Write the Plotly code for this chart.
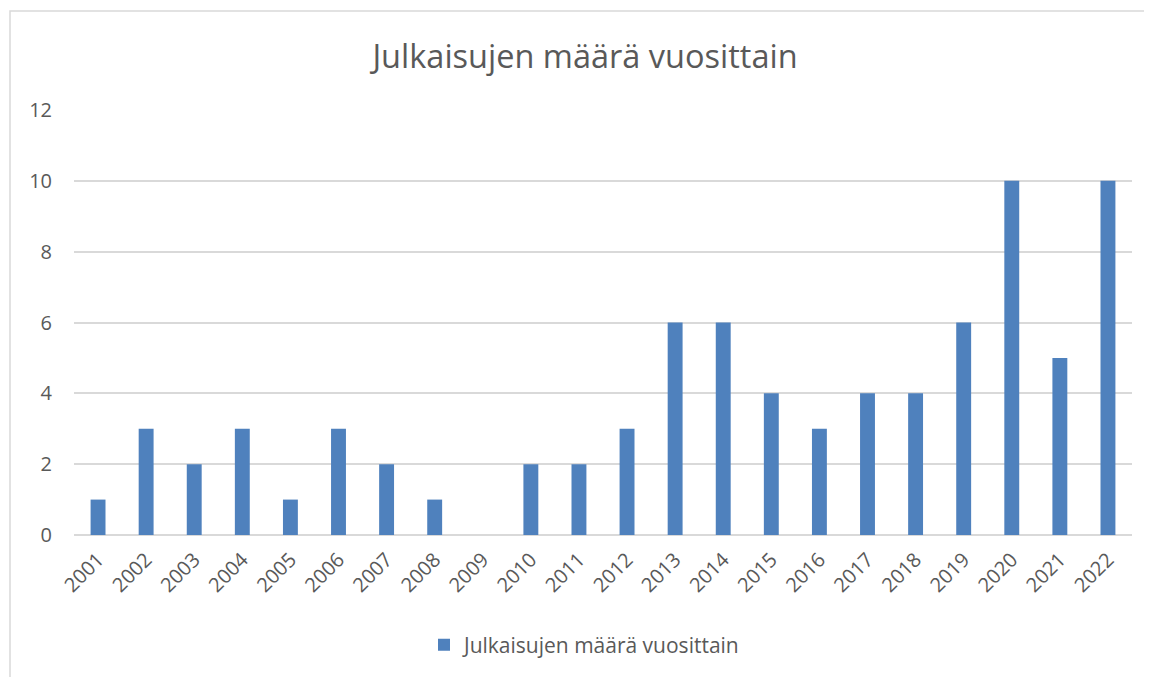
import plotly.graph_objects as go

years = [str(y) for y in range(2001, 2023)]
counts = [1, 3, 2, 3, 1, 3, 2, 1, 0, 2, 2, 3, 6, 6, 4, 3, 4, 4, 6, 10, 5, 10]
series_name = "Julkaisujen määrä vuosittain"
title_text = "Julkaisujen määrä vuosittain"
y_ticks = [0, 2, 4, 6, 8, 10, 12]

# page body has an 8px default margin; figure is sized to fill the rest
OFF = 8
W, H = 1152 - OFF, 677 - OFF
L, R, T, B = 74 - OFF, 20, 110 - OFF, 142
pw = W - L - R
ph = H - T - B

def px_x(x):
    return (x - OFF - L) / pw

def px_y(y):
    return (T + ph - (y - OFF)) / ph

font_fam = "Open Sans, Noto Sans, sans-serif"
txt = "#595959"

fig = go.Figure()
fig.add_trace(go.Bar(x=years, y=counts, name=series_name,
                     marker=dict(color="#4F81BD", line=dict(width=0)),
                     showlegend=True))

fig.update_layout(
    width=W, height=H,
    margin=dict(l=L, r=R, t=T, b=B, autoexpand=False),
    paper_bgcolor="white", plot_bgcolor="white",
    bargap=0.69,
    font=dict(family=font_fam, color=txt, size=20),
    title=dict(text=title_text, x=(585 - OFF) / W, xanchor="center",
               y=1 - (57 - OFF) / H, yanchor="middle",
               font=dict(size=32.5, color=txt, family=font_fam)),
    xaxis=dict(type="category", tickangle=-45, showgrid=False, automargin=False,
               showline=False, ticks="", ticklabelstandoff=8,
               tickfont=dict(size=20, color=txt)),
    yaxis=dict(range=[0, 12], tickvals=y_ticks, showgrid=True, automargin=False,
               gridcolor="#D9D9D9", gridwidth=1.5, zeroline=True,
               zerolinecolor="#D9D9D9", zerolinewidth=1.5,
               showline=False, ticks="", ticklabelstandoff=21,
               tickfont=dict(size=20, color=txt)),
    legend=dict(orientation="h", x=px_x(585), xanchor="center",
                y=px_y(645), yanchor="middle",
                font=dict(size=21, color=txt), itemwidth=30),
    showlegend=True,
)

fig.add_shape(type="rect", xref="paper", yref="paper",
              x0=px_x(10), x1=px_x(1175),
              y0=px_y(700), y1=px_y(11),
              line=dict(color="#D9D9D9", width=1.5), fillcolor="rgba(0,0,0,0)",
              layer="below")

fig.write_html("out.html")
